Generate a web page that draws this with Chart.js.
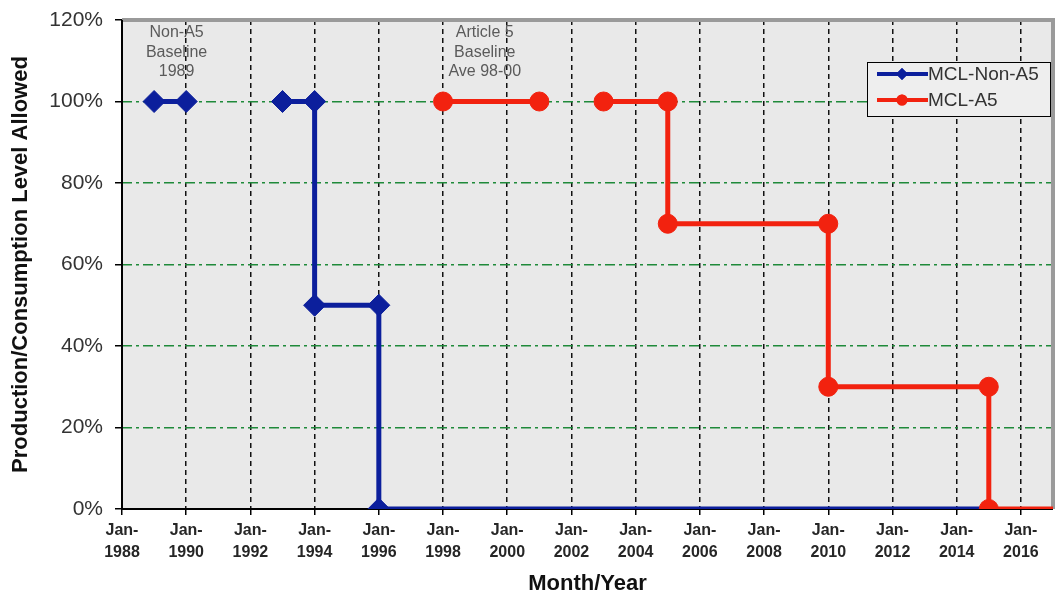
<!DOCTYPE html>
<html>
<head>
<meta charset="utf-8">
<script src="https://cdn.jsdelivr.net/npm/chart.js@4.4.1/dist/chart.umd.min.js"></script>
<style>
  html, body { margin: 0; padding: 0; background: #fff; }
  #wrap { width: 1058px; height: 597px; }
</style>
</head>
<body>
<div id="wrap"><canvas id="mclChart" width="1058" height="597"></canvas></div>
<script>
// x tick years (labelled "Jan-YYYY") and y tick levels
const xTickYears = [1988, 1990, 1992, 1994, 1996, 1998, 2000, 2002, 2004, 2006, 2008, 2010, 2012, 2014, 2016];
const yTickLevels = [0, 20, 40, 60, 80, 100, 120];

// MCL-Non-A5 step series (null = break in the line)
const nonA5Years  = [1989, 1990, 1991, 1993, 1994, 1994, 1996, 1996, 2015];
const nonA5Levels = [100, 100, null, 100, 100, 50, 50, 0, 0];
const nonA5Marks  = [1, 1, 0, 1, 1, 1, 1, 1, 0];

// MCL-A5 step series
const a5Years  = [1998, 2001, 2002, 2003, 2005, 2005, 2010, 2010, 2015, 2015, 2017];
const a5Levels = [100, 100, null, 100, 100, 70, 70, 30, 30, 0, 0];
const a5Marks  = [1, 1, 0, 1, 1, 1, 1, 1, 1, 1, 0];

const seriesNames = ['MCL-Non-A5', 'MCL-A5'];
const notes = [
    { year: 1989.7, lines: ['Non-A5', 'Baseline', '1989'] },
    { year: 1999.3, lines: ['Article 5', 'Baseline', 'Ave 98-00'] }
];

const BLUE = '#0c1f9c';
const RED = '#f2220f';
const FONT = 'Arial, "Liberation Sans", sans-serif';

function toPoints(xs, ys) {
    return xs.map((x, i) => ({ x: x, y: ys[i] }));
}

const decor = {
    id: 'decor',
    beforeDraw(chart) {
        const { ctx, chartArea: a } = chart;
        ctx.save();
        ctx.fillStyle = '#ffffff';
        ctx.fillRect(0, 0, chart.width, chart.height);
        ctx.fillStyle = '#e9e9e9';
        ctx.fillRect(a.left, a.top, a.right - a.left, a.bottom - a.top);
        ctx.restore();
    },
    beforeDatasetsDraw(chart) {
        const { ctx, chartArea: a } = chart;
        ctx.save();
        ctx.setLineDash([]);
        // gray top/right frame
        ctx.strokeStyle = '#9a9a9a';
        ctx.lineWidth = 4;
        ctx.beginPath();
        ctx.moveTo(a.left, a.top);
        ctx.lineTo(a.right, a.top);
        ctx.lineTo(a.right, a.bottom);
        ctx.stroke();
        // black axes
        ctx.strokeStyle = '#000';
        ctx.lineWidth = 2;
        ctx.beginPath();
        ctx.moveTo(a.left, a.top);
        ctx.lineTo(a.left, a.bottom);
        ctx.lineTo(a.right, a.bottom);
        ctx.stroke();
        ctx.restore();
    },
    afterDatasetsDraw(chart) {
        const { ctx, chartArea: a, scales } = chart;
        ctx.save();
        // notes
        ctx.fillStyle = '#5a5a5a';
        ctx.font = '16px ' + FONT;
        ctx.textAlign = 'center';
        ctx.textBaseline = 'middle';
        notes.forEach(n => {
            const cx = scales.x.getPixelForValue(n.year);
            n.lines.forEach((t, i) => ctx.fillText(t, cx, a.top + 13 + i * 19.5));
        });

        // legend box
        const bx = a.right - 186, by = a.top + 42, bw = 183, bh = 54;
        ctx.fillStyle = '#eeeeee';
        ctx.fillRect(bx, by, bw, bh);
        ctx.strokeStyle = '#000';
        ctx.lineWidth = 1;
        ctx.strokeRect(bx + 0.5, by + 0.5, bw, bh);
        const rows = [
            { name: seriesNames[0], color: BLUE, style: 'rectRot', r: 6 },
            { name: seriesNames[1], color: RED, style: 'circle', r: 5.5 }
        ];
        rows.forEach((row, i) => {
            const ly = by + 12 + i * 26;
            ctx.strokeStyle = row.color;
            ctx.lineWidth = 4;
            ctx.beginPath();
            ctx.moveTo(bx + 10, ly);
            ctx.lineTo(bx + 61, ly);
            ctx.stroke();
            ctx.fillStyle = row.color;
            Chart.helpers.drawPoint(ctx, { pointStyle: row.style, radius: row.r, borderWidth: 0, rotation: 0 }, bx + 35, ly);
            ctx.fill();
            ctx.fillStyle = '#333';
            ctx.font = '19px ' + FONT;
            ctx.textAlign = 'left';
            ctx.fillText(row.name, bx + 61, ly + 1);
        });
        ctx.restore();
    }
};

function noPad(scale) {
    scale.paddingLeft = 0;
    scale.paddingRight = 0;
    scale.paddingTop = 0;
    scale.paddingBottom = 0;
}

new Chart(document.getElementById('mclChart'), {
    type: 'line',
    data: {
        datasets: [
            {
                label: seriesNames[0],
                data: toPoints(nonA5Years, nonA5Levels),
                borderColor: BLUE,
                backgroundColor: BLUE,
                borderWidth: 5,
                pointStyle: 'rectRot',
                pointRadius: nonA5Marks.map(m => m ? 11 : 0),
                pointBackgroundColor: BLUE,
                pointBorderColor: BLUE,
                pointBorderWidth: 1,
                tension: 0,
                spanGaps: false,
                order: 2
            },
            {
                label: seriesNames[1],
                data: toPoints(a5Years, a5Levels),
                borderColor: RED,
                backgroundColor: RED,
                borderWidth: 5,
                pointStyle: 'circle',
                pointRadius: a5Marks.map(m => m ? 9.5 : 0),
                pointBackgroundColor: RED,
                pointBorderColor: RED,
                pointBorderWidth: 1,
                tension: 0,
                spanGaps: false,
                order: 1
            }
        ]
    },
    options: {
        responsive: false,
        animation: false,
        devicePixelRatio: 1,
        layout: { autoPadding: false, padding: { top: 20, right: 5, left: 0, bottom: 0 } },
        plugins: {
            legend: { display: false },
            tooltip: { enabled: false }
        },
        scales: {
            x: {
                type: 'linear',
                min: 1988,
                max: 2017,
                afterBuildTicks: scale => { scale.ticks = xTickYears.map(v => ({ value: v })); },
                afterFit: scale => {
                    scale.height = 88;
                    noPad(scale);
                },
                grid: {
                    color: ctx => ctx.tick && ctx.tick.value === 1988 ? 'rgba(0,0,0,0)' : '#111',
                    lineWidth: 1.5,
                    tickColor: '#000',
                    tickLength: 6,
                    tickWidth: 1.5,
                    tickBorderDash: [],
                    borderDash: [5, 4]
                },
                border: { display: false, dash: [5, 4] },
                ticks: {
                    autoSkip: false,
                    maxRotation: 0,
                    padding: 4,
                    color: '#262626',
                    font: { family: FONT, size: 16, weight: 'bold', lineHeight: 1.4 },
                    callback: v => ['Jan-', String(v)]
                },
                title: {
                    display: true,
                    text: 'Month/Year',
                    color: '#111',
                    font: { family: FONT, size: 22, weight: 'bold' },
                    padding: { top: 0, bottom: 0 }
                }
            },
            y: {
                min: 0,
                max: 120,
                afterBuildTicks: scale => { scale.ticks = yTickLevels.map(v => ({ value: v })); },
                afterFit: scale => {
                    scale.width = 122;
                    noPad(scale);
                },
                grid: {
                    color: ctx => ctx.tick && (ctx.tick.value === 0 || ctx.tick.value === 120) ? 'rgba(0,0,0,0)' : '#1f8a3a',
                    lineWidth: 1.5,
                    tickColor: '#000',
                    tickLength: 7,
                    tickWidth: 1.5,
                    tickBorderDash: [],
                    borderDash: [10, 4, 3, 4]
                },
                border: { display: false, dash: [10, 4, 3, 4] },
                ticks: {
                    padding: 12,
                    color: '#333',
                    font: { family: FONT, size: 21 },
                    callback: v => v + '%'
                },
                title: {
                    display: true,
                    text: 'Production/Consumption Level Allowed',
                    color: '#111',
                    font: { family: FONT, size: 22, weight: 'bold' },
                    padding: { top: 8, bottom: 0 }
                }
            }
        }
    },
    plugins: [decor]
});
</script>
</body>
</html>
